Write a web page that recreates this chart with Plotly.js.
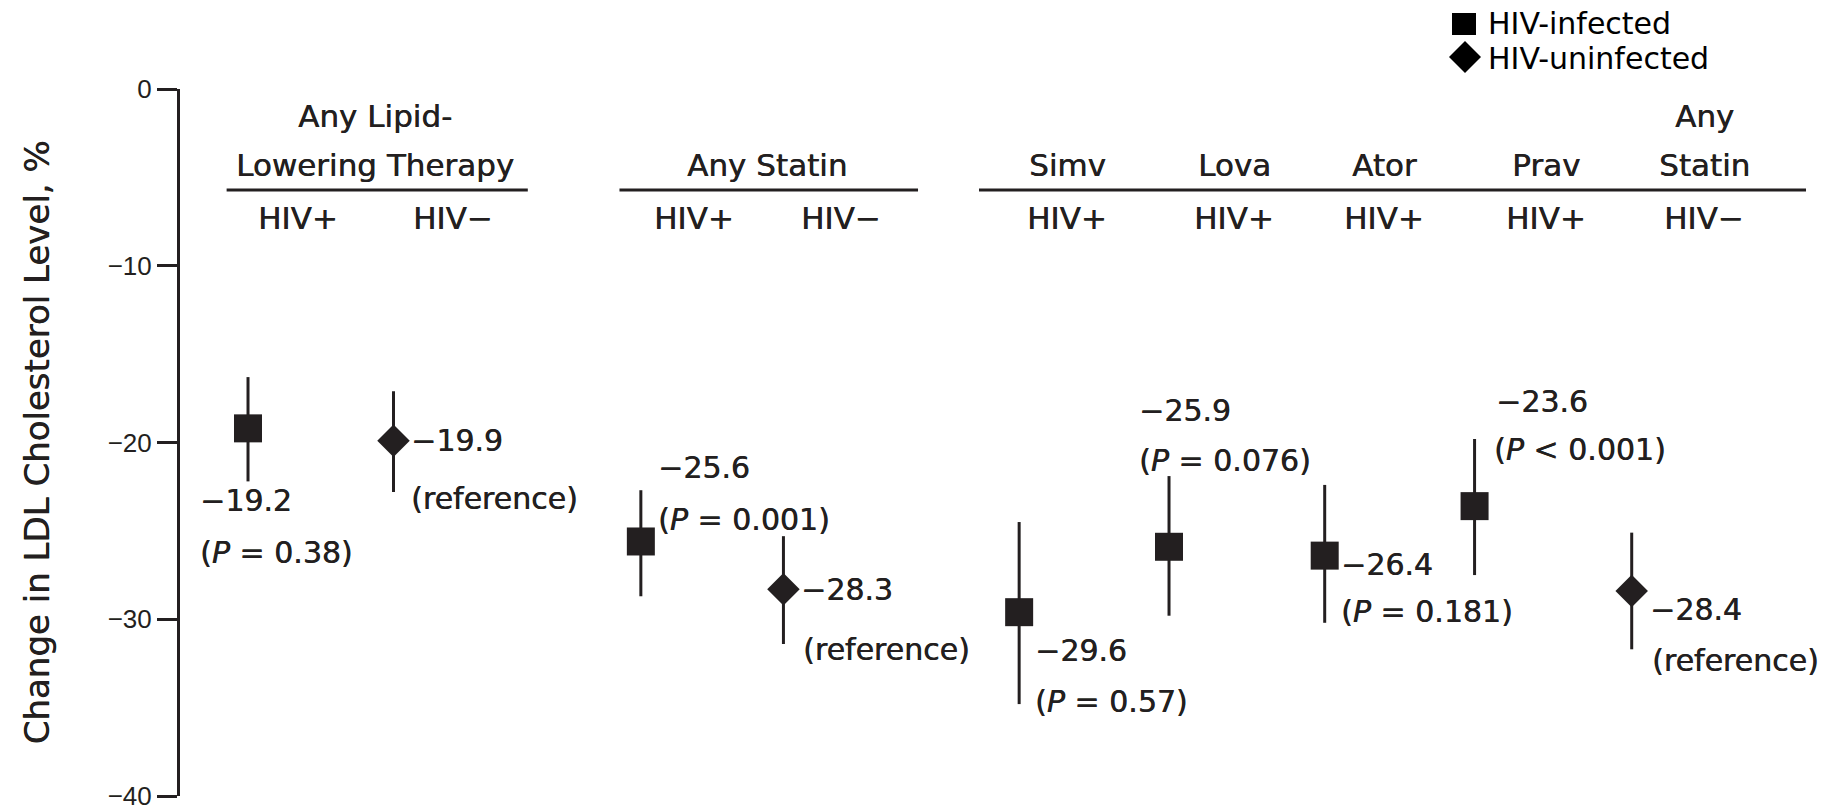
<!DOCTYPE html>
<html>
<head>
<meta charset="utf-8">
<script src="https://cdn.plot.ly/plotly-3.0.1.min.js"></script>
<style>
  html, body { margin: 0; padding: 0; background: #ffffff; }
  #chart { width: 1821px; height: 811px; }
</style>
</head>
<body>
<div id="chart"></div>
<script>
// ---- Data: percent change in LDL cholesterol by treatment and HIV status ----
const therapy = ["Any lipid-lowering therapy", "Any lipid-lowering therapy", "Any statin", "Any statin",
                 "Simvastatin", "Lovastatin", "Atorvastatin", "Pravastatin", "Any statin"];
const status = ["HIV+", "HIV\u2212", "HIV+", "HIV\u2212", "HIV+", "HIV+", "HIV+", "HIV+", "HIV\u2212"];
const changePct = [-19.2, -19.9, -25.6, -28.3, -29.6, -25.9, -26.4, -23.6, -28.4];
const ciUpper = [-16.3, -17.1, -22.7, -25.3, -24.5, -21.9, -22.4, -19.8, -25.1];
const ciLower = [-22.2, -22.8, -28.7, -31.4, -34.8, -29.8, -30.2, -27.5, -31.7];
const pLabels = ["(<i>P</i> = 0.38)", "(reference)", "(<i>P</i> = 0.001)", "(reference)",
                 "(<i>P</i> = 0.57)", "(<i>P</i> = 0.076)", "(<i>P</i> = 0.181)",
                 "(<i>P</i> &lt; 0.001)", "(reference)"];
const yTicks = [0, -10, -20, -30, -40];

// Column headers
const headerRow1 = ["Any Lipid-", "Any"];
const headerRow2 = ["Lowering Therapy", "Any Statin", "Simv", "Lova", "Ator", "Prav", "Statin"];
const legendNames = ["HIV-infected", "HIV-uninfected"];
const yTitle = "Change in LDL Cholesterol Level, %";

// ---- Layout settings ----
const W = 1821, H = 811;
const M = { l: 180, r: 0, t: 89, b: 15 };
const ink = "#231f20";
const heavy = "0.5px 0 0 " + ink;   // slightly heavier strokes for the label face
const labelFont = { family: "DejaVu Sans", size: 30, color: ink, shadow: heavy };
const headFont = { family: "DejaVu Sans", size: 31, color: ink, shadow: heavy };

// horizontal slot of each estimate along the (hidden) x axis
const slotX = [1, 2, 3.7, 4.68, 6.3, 7.33, 8.4, 9.43, 10.51];
const xRange = [0.5326, 11.811];
// header positions on the same slot scale
const row1X = [1.873, 11.007];
const row2X = [1.873, 4.567, 6.629, 7.777, 8.808, 9.921, 11.007];
const row3X = [1.344, 2.409, 4.065, 5.076, 6.629, 7.777, 8.808, 9.921, 11.007];
const ruleSpans = [[0.853, 2.923], [3.553, 5.605], [6.024, 11.708]];
// label offsets in px from each marker: [value dx, value dy, P dx, P dy] (dy downward)
const labelOffsets = [
  [-50, 72, -50, 124], [15, 0, 15, 58], [15, -74, 15, -22],
  [16, 0, 18, 60], [14, 38, 14, 89], [-32, -136, -32, -86],
  [14, 9, 14, 56], [19, -105, 17, -57], [16, 19, 18, 70]
];

const plotW = W - M.l - M.r, plotH = H - M.t - M.b;
const px2x = px => (px - M.l) / plotW;
const px2y = py => (H - M.b - py) / plotH;

function fmt(v) { return (v < 0 ? "\u2212" : "") + Math.abs(v).toFixed(1); }

function makeTrace(st, name, symbol, size) {
  const idx = status.map((s, i) => s === st ? i : -1).filter(i => i >= 0);
  return {
    type: "scatter", mode: "markers", name: name, showlegend: false,
    x: idx.map(i => slotX[i]),
    y: idx.map(i => changePct[i]),
    text: idx.map(i => therapy[i]),
    hovertemplate: "%{text}<br>%{y:.1f}%<extra>" + name + "</extra>",
    marker: { symbol: symbol, size: size, color: ink, line: { width: 0 } },
    error_y: {
      type: "data", symmetric: false,
      array: idx.map(i => ciUpper[i] - changePct[i]),
      arrayminus: idx.map(i => changePct[i] - ciLower[i]),
      color: ink, thickness: 3, width: 0
    }
  };
}

const traces = [
  makeTrace("HIV+", legendNames[0], "square", 28),
  makeTrace("HIV\u2212", legendNames[1], "diamond", 25)
];

const annotations = [];
// value and P-value labels
changePct.forEach((v, i) => {
  const o = labelOffsets[i];
  annotations.push({ x: slotX[i], y: v, xref: "x", yref: "y", text: fmt(v), showarrow: false,
    xanchor: "left", yanchor: "middle", xshift: o[0], yshift: -o[1], font: labelFont });
  annotations.push({ x: slotX[i], y: v, xref: "x", yref: "y", text: pLabels[i], showarrow: false,
    xanchor: "left", yanchor: "middle", xshift: o[2], yshift: -o[3], font: labelFont });
});
// headers
headerRow1.forEach((t, i) => annotations.push({ x: row1X[i], y: px2y(116), xref: "x", yref: "paper",
  text: t, showarrow: false, xanchor: "center", yanchor: "middle", font: headFont }));
headerRow2.forEach((t, i) => annotations.push({ x: row2X[i], y: px2y(165), xref: "x", yref: "paper",
  text: t, showarrow: false, xanchor: "center", yanchor: "middle", font: headFont }));
status.forEach((t, i) => annotations.push({ x: row3X[i], y: px2y(218), xref: "x", yref: "paper",
  text: t, showarrow: false, xanchor: "center", yanchor: "middle", font: headFont }));
// legend text
const legendFont = { family: "DejaVu Sans", size: 30, color: "#000000" };
annotations.push({ x: px2x(1486), y: px2y(23.5), xref: "paper", yref: "paper", text: legendNames[0],
  showarrow: false, xanchor: "left", yanchor: "middle", font: legendFont });
annotations.push({ x: px2x(1486), y: px2y(58.5), xref: "paper", yref: "paper", text: legendNames[1],
  showarrow: false, xanchor: "left", yanchor: "middle", font: legendFont });

const shapes = ruleSpans.map(s => ({
  type: "line", xref: "x", yref: "paper", x0: s[0], x1: s[1], y0: px2y(190), y1: px2y(190),
  line: { color: ink, width: 3 }
}));
// legend keys
shapes.push({ type: "rect", xref: "paper", yref: "paper",
  x0: px2x(1452), x1: px2x(1476), y0: px2y(35), y1: px2y(13),
  fillcolor: "#000000", line: { width: 0 } });
shapes.push({ type: "path", xref: "paper", yref: "paper",
  path: "M " + px2x(1465) + " " + px2y(41) + " L " + px2x(1481) + " " + px2y(57) +
        " L " + px2x(1465) + " " + px2y(73) + " L " + px2x(1449) + " " + px2y(57) + " Z",
  fillcolor: "#000000", line: { width: 0 } });

const layout = {
  width: W, height: H,
  margin: M,
  paper_bgcolor: "#ffffff", plot_bgcolor: "#ffffff",
  showlegend: false,
  xaxis: { range: xRange, visible: false, fixedrange: true },
  yaxis: {
    range: [-40, 0], tickvals: yTicks, ticktext: yTicks.map(v => v === 0 ? "0" : "\u2212" + Math.abs(v)),
    showgrid: false, zeroline: false, showline: true, linecolor: ink, linewidth: 3,
    ticks: "outside", ticklen: 20, tickwidth: 3, tickcolor: ink,
    ticklabeloverflow: "allow",
    tickfont: { family: "Liberation Sans", size: 26, color: ink },
    title: { text: yTitle, font: { family: "DejaVu Sans", size: 34, color: ink, shadow: heavy }, standoff: 48 },
    fixedrange: true
  },
  annotations: annotations,
  shapes: shapes
};

Plotly.newPlot("chart", traces, layout, { displayModeBar: false });
</script>
</body>
</html>
